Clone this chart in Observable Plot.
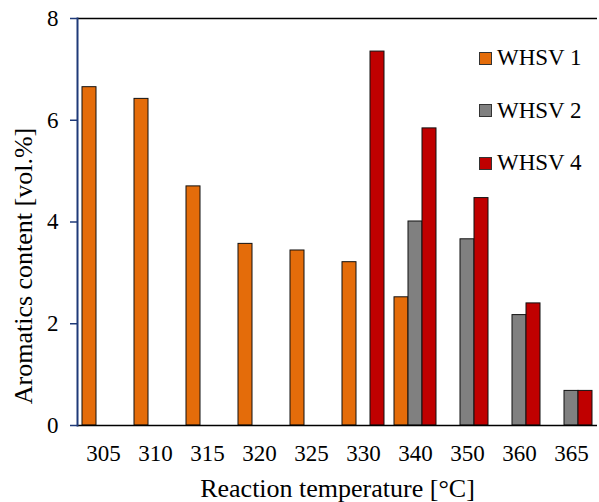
<!DOCTYPE html>
<html>
<head>
<meta charset="utf-8">
<script src="https://cdn.jsdelivr.net/npm/d3@7"></script>
<script src="https://cdn.jsdelivr.net/npm/@observablehq/plot@0.6"></script>
<style>
  body { margin: 0; background: #fff; }
  #chart { position: relative; width: 599px; height: 502px; font-family: "Liberation Serif", serif; }
  #legend { position: absolute; left: 479px; top: 32px; }
  .item { display: flex; align-items: center; height: 52.5px; font-size: 23px; color: #000; }
  .swatch { width: 11px; height: 11px; border: 1px solid #333; margin-right: 5px; }
</style>
</head>
<body>
<div id="chart"><div id="legend"></div></div>
<script>
// Reaction temperatures (°C) on the category axis
const temps = ["305", "310", "315", "320", "325", "330", "340", "350", "360", "365"];
// Aromatics content [vol.%] per WHSV; null where no run was made
const whsv1 = [6.65, 6.42, 4.70, 3.57, 3.44, 3.21, 2.52, null, null, null];
const whsv2 = [null, null, null, null, null, null, 4.01, 3.66, 2.17, 0.68];
const whsv4 = [null, null, null, null, null, 7.35, 5.84, 4.47, 2.40, 0.68];
const seriesNames = ["WHSV 1", "WHSV 2", "WHSV 4"];
const seriesColors = ["#E46C0A", "#808080", "#C00000"];
const yTicks = [0, 2, 4, 6, 8];

const seriesValues = [whsv1, whsv2, whsv4];
const rows = [];
temps.forEach((t, i) => {
  seriesNames.forEach((s, j) => {
    const v = seriesValues[j][i];
    if (v != null) rows.push({temp: t, series: s, value: v});
  });
});

const axisBlue = "#1F3A78";
const serif = "'Liberation Serif', serif";

const chart = Plot.plot({
  width: 599,
  height: 502,
  marginLeft: 76,
  marginRight: 2,
  marginTop: 18,
  marginBottom: 77,
  style: {fontFamily: serif, fontSize: "23px", background: "white", overflow: "visible"},
  fx: {domain: temps, padding: 0},
  x: {domain: seriesNames, paddingInner: 0, paddingOuter: 0.27, axis: null},
  y: {domain: [0, 8]},
  color: {domain: seriesNames, range: seriesColors},
  marks: [
    Plot.barY(rows, {fx: "temp", x: "series", y: "value", fill: "series", stroke: "#111", strokeWidth: 1}),
    Plot.ruleY([0], {stroke: "#000", strokeWidth: 1.5}),
    Plot.ruleY([8], {stroke: "#000", strokeWidth: 1.5}),
    Plot.frame({anchor: "left", facetAnchor: "left", stroke: axisBlue, strokeWidth: 2}),
    Plot.axisY({
      ticks: yTicks, tickSize: 7, tickPadding: 12, stroke: axisBlue, fill: "#000",
      strokeWidth: 1.5, fontSize: 23, fontFamily: serif, label: null
    }),
    // y-axis title, rotated, placed left of the tick labels
    Plot.text(["Aromatics content [vol.%]"], {
      frameAnchor: "left", facetAnchor: "left", textAnchor: "middle", rotate: -90, dx: -54, dy: 44,
      fontSize: 26, fontFamily: serif, fill: "#000"
    }),
    // temperature tick labels
    Plot.axisFx({
      anchor: "bottom", tickSize: 0, tickPadding: 19, fontSize: 23, fontFamily: serif, label: null
    }),
    // x-axis title in a larger size
    Plot.axisFx({
      anchor: "bottom", tickSize: 0, tickFormat: () => "", fontSize: 26, fontFamily: serif,
      label: "Reaction temperature [°C]", labelAnchor: "center", labelOffset: 71
    })
  ]
});

const root = document.getElementById("chart");
root.insertBefore(chart, root.firstChild);

// Legend drawn inside the plot area, top right
const legend = d3.select("#legend");
seriesNames.forEach((s, i) => {
  const item = legend.append("div").attr("class", "item");
  item.append("div").attr("class", "swatch").style("background", seriesColors[i]);
  item.append("span").text(s);
});
</script>
</body>
</html>
